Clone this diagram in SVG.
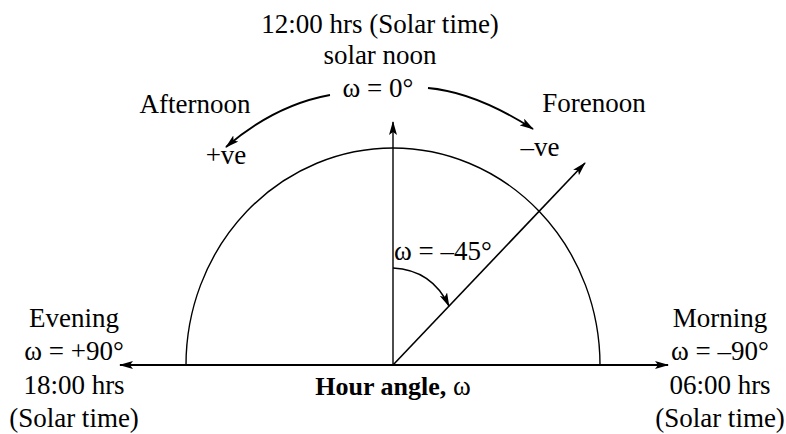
<svg xmlns="http://www.w3.org/2000/svg" width="786" height="434" viewBox="0 0 786 434">
<style>
text{font-family:"Liberation Serif","Times New Roman",serif;font-size:27px;fill:#000}
.c{text-anchor:middle}
.b{font-weight:bold;font-size:26px}
.ln{fill:none;stroke:#000}
</style>
<defs>
<marker id="ah" viewBox="0 0 14 8" refX="13" refY="4" markerWidth="14" markerHeight="8" markerUnits="userSpaceOnUse" orient="auto-start-reverse">
<path d="M0,0 L14,4 L0,8 L3,4 z" fill="#000"/>
</marker>
</defs>
<rect width="786" height="434" fill="#fff"/>
<g id="semicircle"><path class="ln" stroke-width="1.4" d="M186,365 A207,217 0 0 1 600,365"/></g>
<g id="connectors">
<line class="ln" stroke-width="2.2" x1="120" y1="365" x2="668" y2="365" marker-start="url(#ah)" marker-end="url(#ah)"/>
<line class="ln" stroke-width="1.4" x1="393" y1="365" x2="393" y2="122" marker-end="url(#ah)"/>
<line class="ln" stroke-width="1.6" x1="393" y1="365" x2="585" y2="163" marker-end="url(#ah)"/>
<path class="ln" stroke-width="1.8" d="M330,95 Q275,105 226,147" marker-end="url(#ah)"/>
<path class="ln" stroke-width="1.8" d="M428,88 Q475,92 533,129" marker-end="url(#ah)"/>
<path class="ln" stroke-width="1.6" d="M393,268 Q432,270 449,306" marker-end="url(#ah)"/>
</g>
<g id="noon">
<text class="c" x="380" y="33">12:00 hrs (Solar time)</text>
<text class="c" x="380" y="64">solar noon</text>
<text class="c" x="378" y="97">ω = 0°</text>
</g>
<g id="afternoon">
<text class="c" x="195" y="113">Afternoon</text>
<text class="c" x="226" y="164">+ve</text>
</g>
<g id="forenoon">
<text class="c" x="594" y="112">Forenoon</text>
<text class="c" x="540" y="156">–ve</text>
</g>
<g id="angle"><text x="394" y="260">ω = –45°</text></g>
<g id="evening">
<text class="c" x="74" y="327">Evening</text>
<text class="c" x="74" y="360">ω = +90°</text>
<text class="c" x="74" y="394">18:00 hrs</text>
<text class="c" x="74" y="427">(Solar time)</text>
</g>
<g id="morning">
<text class="c" x="720" y="327">Morning</text>
<text class="c" x="720" y="360">ω = –90°</text>
<text class="c" x="720" y="394">06:00 hrs</text>
<text class="c" x="720" y="427">(Solar time)</text>
</g>
<g id="axis-label"><text class="c" x="393" y="395"><tspan class="b">Hour angle,</tspan> ω</text></g>
</svg>
